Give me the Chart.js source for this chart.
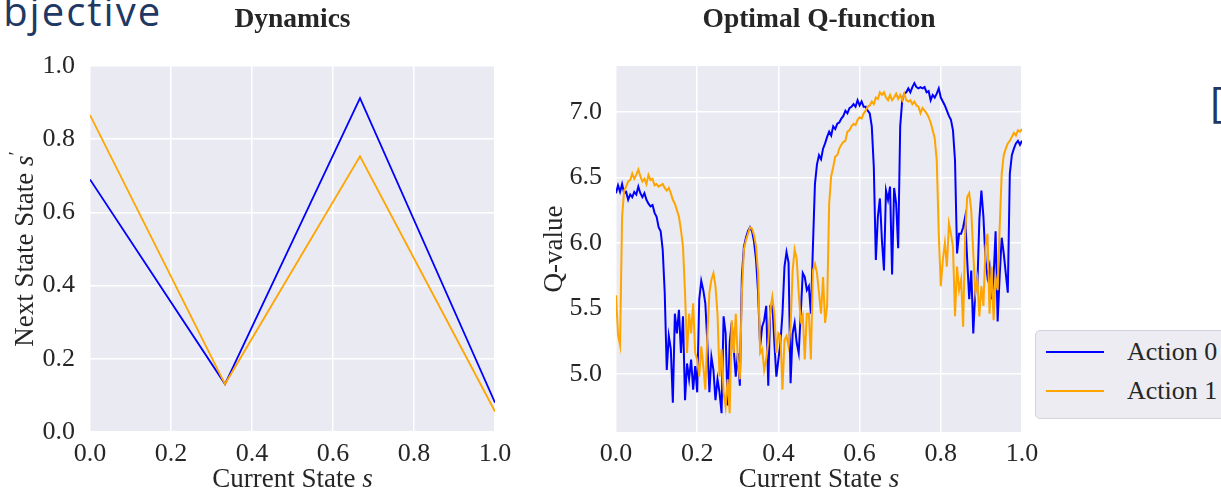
<!DOCTYPE html>
<html>
<head>
<meta charset="utf-8">
<script src="https://cdn.jsdelivr.net/npm/chart.js@4.4.1/dist/chart.umd.min.js"></script>
<style>
  html, body { margin: 0; padding: 0; background: #fff; overflow: hidden; }
  #page { position: relative; width: 1221px; height: 495px; overflow: hidden; background: #fff; }
  .panel { position: absolute; top: 0; height: 495px; }
  #dynPanel { left: 0; width: 515px; }
  #qPanel { left: 520px; width: 701px; }
  .slide { position: absolute; font-family: "Open Sans", "Noto Sans", sans-serif; color: #1f3864;
           white-space: nowrap; }
  #slideTitle { font-size: 40px; line-height: 40px; letter-spacing: 2px; top: -9px; }
  #slideBracket { font-size: 42px; line-height: 42px; left: 1210px; top: 80px; }
  #legend { position: absolute; left: 1035px; top: 330px; width: 240px; height: 89px; box-sizing: border-box;
            border: 1px solid #d2d2d8; border-radius: 5px; background: #ececf2;
            font-family: "Liberation Serif", "Times New Roman", serif; font-size: 26px; color: #262626; }
  .row { position: absolute; left: 0; height: 0; }
  .swatch { position: absolute; left: 10px; width: 58px; top: -1px; border-top: 2px solid; }
  .lbl { position: absolute; left: 91px; top: -15px; line-height: 30px; white-space: nowrap; }
</style>
</head>
<body>
<div id="page">
  <div class="slide" id="slideTitle"><span id="firstLetter">O</span>bjective</div>
  <div class="slide" id="slideBracket">[</div>
  <div class="panel" id="dynPanel"><canvas id="dynChart"></canvas></div>
  <div class="panel" id="qPanel"><canvas id="qChart"></canvas></div>
  <div id="legend"></div>
</div>
<script>
// ---- shared axis ----
const stateTicks = [0, 0.2, 0.4, 0.6, 0.8, 1.0];

// ---- Dynamics: next state reached from each current state ----
const dynStates = [0, 1 / 3, 2 / 3, 1];
const dynNextAction0 = [0.69, 0.131, 0.912, 0.08];
const dynNextAction1 = [0.866, 0.131, 0.753, 0.056];
const dynYTicks = [0, 0.2, 0.4, 0.6, 0.8, 1.0];

// ---- Optimal Q-function, sampled every 0.005 of the state ----
const Q_STEP = 0.005;
const qAction0 = [
  6.38, 6.44, 6.39, 6.45, 6.38, 6.39, 6.33, 6.37, 6.35, 6.39,
  6.37, 6.43, 6.38, 6.35, 6.38, 6.33, 6.30, 6.28, 6.29, 6.23,
  6.20, 6.12, 6.09, 5.95, 5.62, 5.03, 5.29, 5.19, 4.78, 5.46,
  5.31, 5.49, 5.16, 5.44, 4.80, 5.08, 4.96, 5.11, 4.88, 5.06,
  4.86, 5.57, 5.71, 5.64, 5.54, 5.24, 4.86, 5.13, 5.03, 4.80,
  4.96,
  4.86, 4.70, 5.44, 5.31, 4.76, 5.24, 5.39, 5.19, 4.98, 5.16,
  4.91, 5.74, 5.97, 6.04, 6.09, 6.12, 6.09, 6.01, 5.87, 5.62,
  5.21, 5.36, 5.41, 5.52, 4.91, 5.52, 5.54, 5.24, 4.98, 5.11,
  5.24, 5.46, 5.82, 5.93, 5.85, 4.93, 5.31, 5.39, 5.24, 5.16,
  5.46, 5.77, 5.74, 5.64, 5.67, 5.46, 5.97, 6.45, 6.60, 6.67,
  6.64, 6.72, 6.76, 6.81, 6.85, 6.82, 6.89, 6.87, 6.91, 6.92,
  6.95, 6.97, 7.01, 6.99, 7.03, 7.04, 7.06, 7.04, 7.09, 7.05,
  7.08, 7.04, 7.04, 7.01, 6.99, 6.89, 6.58, 5.87, 6.20, 6.34,
  6.02, 5.79, 6.40, 6.33, 6.43, 5.76, 6.42, 6.30, 5.96, 6.89,
  7.09, 7.14, 7.15, 7.18, 7.15, 7.19, 7.22, 7.19, 7.18, 7.19,
  7.18, 7.19, 7.15, 7.16, 7.09, 7.13, 7.11, 7.14, 7.18, 7.11,
  7.08, 7.05, 7.01, 6.97, 6.94, 6.86, 6.63, 5.92, 6.07, 6.07,
  6.12, 6.20, 5.87, 5.57, 5.79, 5.31, 5.64, 5.67, 6.18, 6.40,
  6.20, 5.87, 5.74, 5.82, 5.57, 5.74, 6.09, 5.40, 5.75, 6.04,
  5.92, 5.77, 5.62, 6.53, 6.67, 6.72, 6.76, 6.78, 6.75, 6.78
];
const qAction1 = [
  5.60, 5.30, 5.22, 6.20, 6.40, 6.43, 6.47, 6.48, 6.53, 6.49,
  6.52, 6.56, 6.51, 6.47, 6.49, 6.45, 6.52, 6.48, 6.49, 6.44,
  6.45, 6.43, 6.44, 6.45, 6.42, 6.40, 6.42, 6.38, 6.33, 6.30,
  6.25, 6.20, 6.10, 5.97, 5.62, 5.16, 5.46, 5.31, 5.54, 5.16,
  5.11, 4.98, 5.21, 5.06, 4.88, 5.29, 5.62, 5.72, 5.77, 5.67,
  5.46,
  4.98, 5.19, 4.86, 4.75, 4.96, 4.70, 5.41, 5.16, 5.46, 5.11,
  4.96, 5.62, 5.95, 6.02, 6.07, 6.12, 6.11, 6.06, 5.97, 5.77,
  5.16, 5.19, 5.03, 5.11, 5.24, 5.49, 5.59, 5.46, 5.16, 5.31,
  5.29, 4.88, 5.26, 5.29, 5.21, 5.36, 5.79, 5.95, 5.88, 5.62,
  5.41, 5.45, 5.11, 5.46, 5.46, 5.11, 5.79, 5.84, 5.77, 5.62,
  5.46, 5.74, 5.39, 5.52, 6.30, 6.51, 6.58, 6.66, 6.67, 6.72,
  6.75, 6.77, 6.78, 6.85, 6.86, 6.89, 6.91, 6.90, 6.94, 6.96,
  6.95, 6.99, 7.01, 7.04, 7.05, 7.08, 7.06, 7.11, 7.10, 7.15,
  7.13, 7.15, 7.11, 7.09, 7.13, 7.09, 7.11, 7.14, 7.10, 7.13,
  7.09, 7.14, 7.09, 7.08, 7.09, 7.06, 7.08, 7.05, 7.04, 6.99,
  7.03, 7.01, 6.99, 6.96, 6.92, 6.86, 6.80, 6.63, 6.07, 5.67,
  5.87, 6.00, 5.82, 6.15, 6.07, 5.97, 5.44, 5.82, 5.64, 5.72,
  5.36, 6.07, 6.35, 6.38, 6.25, 5.92, 5.62, 5.72, 5.44, 5.67,
  5.52, 5.97, 6.07, 5.46, 5.82, 5.41, 5.74, 5.64, 6.12, 6.53,
  6.67, 6.72, 6.76, 6.78, 6.81, 6.84, 6.82, 6.86, 6.85, 6.87
];
const qStates = qAction0.map((_, i) => +(i * Q_STEP).toFixed(3));
const qYTicks = [5.0, 5.5, 6.0, 6.5, 7.0];
const qRange = [4.557, 7.351];

const seriesNames = ['Action 0', 'Action 1'];

// ---- styling ----
const SERIF = "'Liberation Serif', 'Times New Roman', serif";
const INK = '#262626';
const BLUE = '#0000ff';
const ORANGE = '#ffa500';
const PANEL_BG = '#eaeaf2';
const TICK_SIZE = 26;
const LABEL_SIZE = 27;
const TITLE_SIZE = 27.5;

const toPoints = (xs, ys) => xs.map((x, i) => ({ x, y: ys[i] }));

// gray panel behind the grid
const panelBackground = {
  id: 'panelBackground',
  beforeDraw(chart) {
    const { ctx, chartArea: a } = chart;
    ctx.save();
    ctx.fillStyle = PANEL_BG;
    ctx.fillRect(a.left, a.top, a.right - a.left, a.bottom - a.top);
    ctx.restore();
  }
};

// axis titles with italic symbols
function partFont(p) {
  const size = p.sup ? LABEL_SIZE * 0.72 : LABEL_SIZE;
  return (p.italic ? 'italic ' : '') + size + 'px ' + SERIF;
}
function drawParts(ctx, parts, cx, baseY) {
  const widths = parts.map(p => { ctx.font = partFont(p); return ctx.measureText(p.t).width; });
  const total = widths.reduce((s, w) => s + w, 0);
  let x = cx - total / 2;
  ctx.textAlign = 'left';
  ctx.textBaseline = 'alphabetic';
  parts.forEach((p, i) => {
    ctx.font = partFont(p);
    ctx.fillText(p.t, x, baseY - (p.sup ? LABEL_SIZE * 0.4 : 0));
    x += widths[i];
  });
}
const axisTitles = {
  id: 'axisTitles',
  afterDraw(chart, args, opts) {
    const { ctx, chartArea: a } = chart;
    ctx.save();
    ctx.fillStyle = INK;
    drawParts(ctx, opts.x, (a.left + a.right) / 2, opts.xBaseline);
    ctx.translate(opts.yBaseline, (a.top + a.bottom) / 2);
    ctx.rotate(-Math.PI / 2);
    drawParts(ctx, opts.y, 0, 0);
    ctx.restore();
  }
};

// fixed axis thickness; edge labels do not shrink the plotting area
const fixedSize = px => scale => {
  if (scale.isHorizontal()) { scale.height = px; scale.paddingLeft = 0; scale.paddingRight = 0; }
  else { scale.width = px; scale.paddingTop = 0; scale.paddingBottom = 0; }
};
const useTicks = values => scale => { scale.ticks = values.map(v => ({ value: v })); };

function tickStyle(pad) {
  return {
    autoSkip: false, maxRotation: 0, color: INK, padding: pad,
    font: { family: SERIF, size: TICK_SIZE },
    callback: v => Number(v).toFixed(1)
  };
}
function axis(extra, pad) {
  return Object.assign({
    type: 'linear',
    grid: { color: '#ffffff', lineWidth: 1.5, drawTicks: false },
    border: { display: false },
    ticks: tickStyle(pad)
  }, extra);
}

function lineSet(label, points, color, order, width) {
  return { label, data: points, borderColor: color, backgroundColor: color, borderWidth: width,
           pointRadius: 0, tension: 0, fill: false, order };
}

function baseOptions(title, padRight, yAxisWidth, yPad, yMin, yMax, yTicks, titles) {
  return {
    animation: false, responsive: true, maintainAspectRatio: false, events: [],
    layout: { padding: { left: 0, right: padRight, top: 0, bottom: 0 } },
    scales: {
      x: axis({ min: 0, max: 1, afterBuildTicks: useTicks(stateTicks), afterFit: fixedSize(63) }, 7),
      y: axis({ min: yMin, max: yMax, afterBuildTicks: useTicks(yTicks), afterFit: fixedSize(yAxisWidth) }, yPad)
    },
    plugins: {
      legend: { display: false },
      tooltip: { enabled: false },
      title: { display: true, text: title, fullSize: false, color: INK,
               font: { family: SERIF, size: TITLE_SIZE, weight: 'bold' },
               padding: { top: 3, bottom: 66 - 3 - TITLE_SIZE * 1.2 } },
      axisTitles: titles
    }
  };
}

const dynChart = new Chart(document.getElementById('dynChart'), {
  type: 'line',
  data: {
    datasets: [
      lineSet(seriesNames[0], toPoints(dynStates, dynNextAction0), BLUE, 1, 1.8),
      lineSet(seriesNames[1], toPoints(dynStates, dynNextAction1), ORANGE, 0, 1.8)
    ]
  },
  options: baseOptions('Dynamics', 20, 90, 15, 0, 1, dynYTicks, {
    x: [{ t: 'Current State ' }, { t: 's', italic: true }],
    xBaseline: 487,
    y: [{ t: 'Next State State ' }, { t: 's', italic: true }, { t: '\u2032', sup: true }],
    yBaseline: 33
  }),
  plugins: [panelBackground, axisTitles]
});

const qChart = new Chart(document.getElementById('qChart'), {
  type: 'line',
  data: {
    datasets: [
      lineSet(seriesNames[0], toPoints(qStates, qAction0), BLUE, 1, 2),
      lineSet(seriesNames[1], toPoints(qStates, qAction1), ORANGE, 0, 2)
    ]
  },
  options: baseOptions('Optimal Q-function', 199, 96, 14, qRange[0], qRange[1], qYTicks, {
    x: [{ t: 'Current State ' }, { t: 's', italic: true }],
    xBaseline: 487,
    y: [{ t: 'Q-value' }],
    yBaseline: 41.5
  }),
  plugins: [panelBackground, axisTitles]
});

// legend built from the Q-function datasets
const legend = document.getElementById('legend');
qChart.data.datasets.forEach((ds, i) => {
  const row = document.createElement('div');
  row.className = 'row';
  row.style.top = (21 + i * 39) + 'px';
  const sw = document.createElement('div');
  sw.className = 'swatch';
  sw.style.borderTopColor = ds.borderColor;
  const lbl = document.createElement('div');
  lbl.className = 'lbl';
  lbl.textContent = ds.label;
  row.appendChild(sw);
  row.appendChild(lbl);
  legend.appendChild(row);
});

// slide heading starts just off the left edge
const heading = document.getElementById('slideTitle');
heading.style.left = (3 - document.getElementById('firstLetter').offsetWidth) + 'px';
</script>
</body>
</html>
